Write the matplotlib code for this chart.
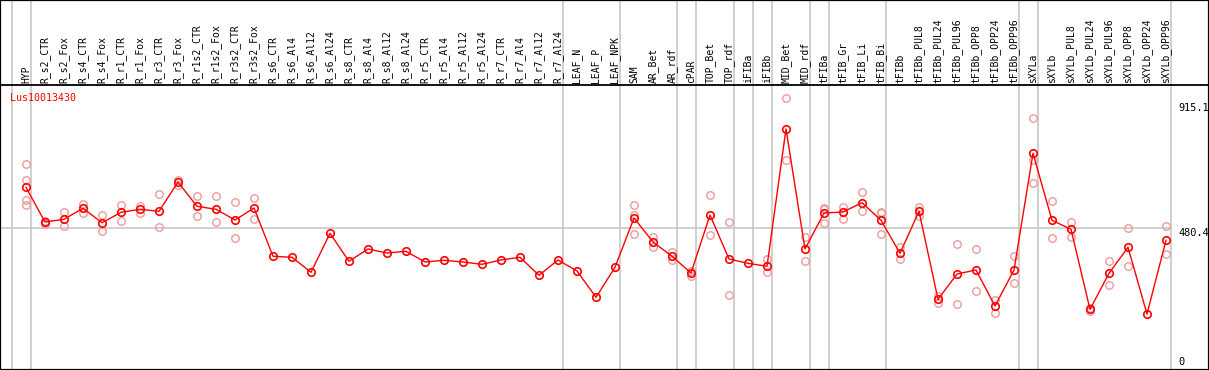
import matplotlib
matplotlib.use("Agg")
import matplotlib.pyplot as plt

categories = ["HYP", "R_s2_CTR", "R_s2_Fox", "R_s4_CTR", "R_s4_Fox", "R_r1_CTR", "R_r1_Fox",
              "R_r3_CTR", "R_r3_Fox", "R_r1s2_CTR", "R_r1s2_Fox", "R_r3s2_CTR", "R_r3s2_Fox",
              "R_s6_CTR", "R_s6_Al4", "R_s6_Al12", "R_s6_Al24", "R_s8_CTR", "R_s8_Al4",
              "R_s8_Al12", "R_s8_Al24", "R_r5_CTR", "R_r5_Al4", "R_r5_Al12", "R_r5_Al24",
              "R_r7_CTR", "R_r7_Al4", "R_r7_Al12", "R_r7_Al24", "LEAF_N", "LEAF_P", "LEAF_NPK",
              "SAM", "AR_Bet", "AR_rdf", "cPAR", "TOP_Bet", "TOP_rdf", "iFIBa", "iFIBb",
              "MID_Bet", "MID_rdf", "tFIBa", "tFIB_Gr", "tFIB_Li", "tFIB_Bi", "tFIBb",
              "tFIBb_PUL8", "tFIBb_PUL24", "tFIBb_PUL96", "tFIBb_OPP8", "tFIBb_OPP24",
              "tFIBb_OPP96", "sXYLa", "sXYLb", "sXYLb_PUL8", "sXYLb_PUL24", "sXYLb_PUL96",
              "sXYLb_OPP8", "sXYLb_OPP24", "sXYLb_OPP96"]

mean_values = [623.1, 502.3, 511.7, 550.0, 499.8, 536.0, 546.5, 539.5, 641.6, 556.9,
               546.5, 509.2, 551.0, 382.8, 379.3, 327.1, 462.9, 365.4, 408.2, 394.3,
               400.2, 362.9, 368.9, 362.9, 354.9, 369.9, 379.3, 316.6, 369.9, 331.6,
               240.0, 344.5, 516.2, 432.6, 382.8, 324.6, 526.6, 373.4, 358.4, 348.0,
               826.2, 408.2, 533.6, 537.1, 569.5, 508.2, 393.2, 539.5, 233.0, 321.1,
               335.1, 209.7, 335.1, 741.5, 508.2, 476.8, 198.2, 323.6, 414.1, 181.8,
               438.5]

replicate_values = [
    [703.2, 647.5, 578.9, 561.5], [506.8, 494.3], [537.1, 487.3], [566.0, 534.6],
    [525.6, 472.0], [560.4, 506.8], [559.0, 533.6], [598.7, 483.8], [649.6, 631.1],
    [591.8, 523.2], [591.8, 502.3], [571.9, 445.5], [585.9, 513.8],
    [], [], [], [], [], [], [], [], [], [], [], [], [], [], [], [], [], [], [],
    [561.5, 526.6, 461.5], [451.1, 415.2], [396.7, 370.9], [331.6, 314.2],
    [596.3, 455.9], [502.3, 246.9], [], [373.4, 327.1],
    [933.1, 717.2], [451.1, 365.4], [552.1, 547.5, 497.7], [555.6, 513.8],
    [606.7, 540.6], [537.1, 533.6, 459.4], [416.2, 372.3], [555.6, 524.2],
    [244.4, 221.2], [425.6, 216.6], [408.2, 260.9], [230.6, 184.3], [382.8, 288.7],
    [864.5, 718.2, 638.1], [574.4, 445.5], [502.3, 451.1], [203.8, 192.3],
    [365.4, 281.8], [482.4, 348.0], [], [487.3, 389.8]]

title = "Lus10013430"
axis_labels = ["915.1", "480.4", "0"]
axis_values = [915.1, 480.4, 0.0]
group_breaks = [-1, 0, 28, 31, 34, 35, 37, 38, 39, 41, 42, 45, 52, 53, 60]

W, H = 1209, 370
fig = plt.figure(figsize=(W / 100, H / 100), dpi=100)
ax = fig.add_axes([0, 0, 1, 1])

# pixel mapping: x_px = 26 + 19*i ; y_px = 366.2 - 0.2871*v
sx, x0 = 19.0, 26.0
sy, y0 = 0.2871, 366.2
ax.set_xlim(-x0 / sx, (W - x0) / sx)
ax.set_ylim((y0 - H) / sy, y0 / sy)
ax.set_xticks([])
ax.set_yticks([])
for s in ax.spines.values():
    s.set_linewidth(1.6)
    s.set_color("black")

grid_c = "#c4c4c4"
for k in group_breaks:
    ax.axvline(k + 0.237, color=grid_c, lw=1.1, zorder=1)
right_edge = 60.237
ax.hlines(480.4, ax.get_xlim()[0], right_edge, color=grid_c, lw=1.1, zorder=1)

sep_v = (y0 - 85) / sy
ax.axhline(sep_v, color="black", lw=1.3, zorder=2)

mono = "DejaVu Sans Mono"
label_v = (y0 - 83) / sy
for i, c in enumerate(categories):
    ax.text(i, label_v, c, rotation=90, ha="center", va="bottom",
            fontsize=7.0, family=mono, color="black")

ax.text((10 - x0) / sx, (y0 - 97.5) / sy, title, ha="left", va="center",
        fontsize=7.2, family=mono, color="red")

lab_x = (1178 - x0) / sx
for lab, v in zip(axis_labels, axis_values):
    if v == 0:
        ax.text(lab_x, v + 3, lab, ha="left", va="baseline", fontsize=7.4, family=mono)
    else:
        ax.text(lab_x, v, lab, ha="left", va="top", fontsize=7.4, family=mono)

xs = list(range(len(categories)))
rx, ry = [], []
for i, reps in enumerate(replicate_values):
    for r in reps:
        rx.append(i)
        ry.append(r)
ax.plot(rx, ry, ls="none", marker="o", ms=5.4, mfc="none", mec="#ee9a9a",
        mew=1.0, zorder=3)

ax.plot(xs, mean_values, color="#ff0000", lw=1.0, marker="o", ms=5.4, mfc="none",
        mec="#ff0000", mew=1.2, zorder=4)

fig.savefig("out.png", dpi=100)
